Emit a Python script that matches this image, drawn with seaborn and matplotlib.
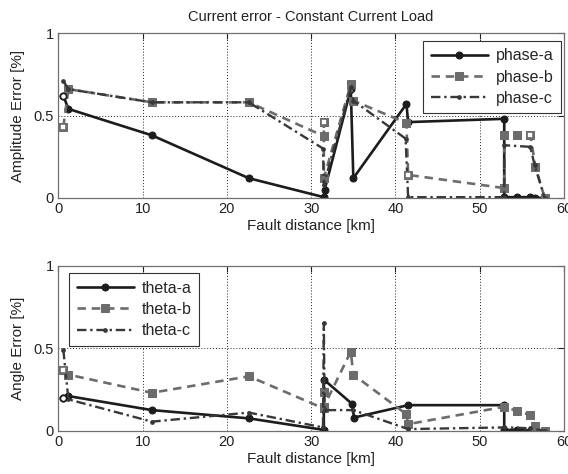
import matplotlib
matplotlib.use("Agg")
import matplotlib.pyplot as plt
import seaborn as sns
import pandas as pd

# Fault distance [km] and relative errors for each phase
amp_a_x = [0.6, 1.2, 11.1, 22.6, 31.5, 31.6, 34.7, 35.0, 41.3, 41.5, 52.9, 52.9, 54.4, 56.0, 56.5, 57.7]
amp_a_y = [0.62, 0.54, 0.38, 0.12, 0.005, 0.05, 0.66, 0.12, 0.57, 0.46, 0.48, 0.005, 0.005, 0.005, 0.002, 0.0]

amp_b_x = [0.6, 1.2, 11.1, 22.6, 31.5, 31.5, 31.5, 34.7, 35.0, 41.3, 41.5, 52.9, 52.9, 54.4, 56.0, 56.6, 57.7]
amp_b_y = [0.43, 0.66, 0.58, 0.58, 0.375, 0.46, 0.12, 0.69, 0.59, 0.455, 0.14, 0.06, 0.38, 0.38, 0.38, 0.19, 0.0]

amp_c_x = [0.6, 1.2, 11.1, 22.6, 31.4, 31.5, 34.7, 35.0, 41.2, 41.5, 52.9, 52.9, 56.0, 56.5, 57.7]
amp_c_y = [0.71, 0.66, 0.58, 0.58, 0.30, 0.08, 0.67, 0.59, 0.36, 0.005, 0.005, 0.32, 0.31, 0.20, 0.0]

ang_a_x = [0.6, 1.2, 11.1, 22.6, 31.5, 31.5, 34.8, 35.1, 41.5, 52.9, 52.9, 54.4, 56.0, 57.7]
ang_a_y = [0.20, 0.21, 0.125, 0.075, 0.005, 0.31, 0.165, 0.08, 0.155, 0.155, 0.005, 0.005, 0.0, 0.0]

ang_b_x = [0.6, 1.2, 11.1, 22.6, 31.5, 31.5, 31.5, 34.7, 35.0, 41.3, 41.5, 52.9, 54.4, 56.0, 56.5, 57.7]
ang_b_y = [0.37, 0.34, 0.23, 0.33, 0.135, 0.235, 0.145, 0.48, 0.34, 0.10, 0.04, 0.145, 0.12, 0.095, 0.03, 0.0]

ang_c_x = [0.6, 1.2, 11.1, 22.6, 31.4, 31.5, 31.6, 35.0, 41.5, 52.9, 56.0, 57.7]
ang_c_y = [0.49, 0.19, 0.055, 0.11, 0.02, 0.655, 0.125, 0.125, 0.01, 0.02, 0.015, 0.0]

# points drawn with hollow markers
amp_a_open = [0]
amp_b_open = [0, 5, 10, 14]
ang_a_open = [0]
ang_b_open = [0]

x_ticks = [0, 10, 20, 30, 40, 50, 60]
y_ticks = [0, 0.5, 1]
y_tick_labels = ["0", "0.5", "1"]

sns.set_style("white")
plt.rcParams["font.family"] = ["Liberation Sans", "DejaVu Sans"]

fig = plt.figure(figsize=(5.68, 4.74), dpi=100)
ax1 = fig.add_axes([0.1026, 0.5823, 0.8905, 0.348])
ax2 = fig.add_axes([0.1026, 0.0913, 0.8905, 0.348])

styles = [
    dict(color="#1c1c1c", ls="-", marker="o", ms=5, lw=1.9),
    dict(color="#6c6c6c", ls=(0, (3.2, 2.2)), marker="s", ms=5.5, lw=1.9),
    dict(color="#383838", ls=(0, (4.0, 1.6, 1.0, 1.6)), marker="o", ms=2.6, lw=1.7),
]


def draw(ax, series, labels, opens, ylabel, legend_loc, legend_anchor):
    for (xs, ys), lab, st, op in zip(series, labels, styles, opens):
        df = pd.DataFrame({"x": xs, "y": ys})
        sns.lineplot(data=df, x="x", y="y", ax=ax, sort=False, estimator=None,
                     color=st["color"], linestyle=st["ls"], linewidth=st["lw"],
                     marker=st["marker"], markersize=st["ms"],
                     markeredgecolor=st["color"], markerfacecolor=st["color"],
                     label=lab)
        if op:
            sub = df.iloc[op]
            sns.scatterplot(data=sub, x="x", y="y", ax=ax, marker=st["marker"],
                            s=st["ms"] ** 2 * 0.8, facecolor="white",
                            edgecolor=st["color"], linewidth=1.2, zorder=5,
                            legend=False)
    ax.set_xlim(0, 60)
    ax.set_ylim(0, 1)
    ax.set_xticks(x_ticks)
    ax.set_yticks(y_ticks)
    ax.set_yticklabels(y_tick_labels)
    ax.grid(True, color="#222222", linestyle=(0, (1, 2)), linewidth=0.7)
    ax.tick_params(direction="in", length=4, width=0.8, top=True, right=True,
                   labelsize=10.5, colors="#222222", pad=3)
    for sp in ax.spines.values():
        sp.set_color("#707070")
        sp.set_linewidth(0.9)
    ax.set_xlabel("Fault distance [km]", fontsize=11, labelpad=2, color="#222222")
    ax.set_ylabel(ylabel, fontsize=11, labelpad=6, color="#222222")
    leg = ax.legend(loc=legend_loc, bbox_to_anchor=legend_anchor, fontsize=11.5,
                    frameon=True, fancybox=False, framealpha=1,
                    edgecolor="#333333", handlelength=3.6, handletextpad=0.5,
                    borderpad=0.45, labelspacing=0.4, borderaxespad=0.0)
    leg.get_frame().set_linewidth(0.8)


draw(ax1, [(amp_a_x, amp_a_y), (amp_b_x, amp_b_y), (amp_c_x, amp_c_y)],
     ["phase-a", "phase-b", "phase-c"], [amp_a_open, amp_b_open, []],
     "Amplitude Error [%]", "upper right", (0.994, 0.952))
draw(ax2, [(ang_a_x, ang_a_y), (ang_b_x, ang_b_y), (ang_c_x, ang_c_y)],
     ["theta-a", "theta-b", "theta-c"], [ang_a_open, ang_b_open, []],
     "Angle Error [%]", "upper left", (0.022, 0.954))

ax1.set_title("Current error - Constant Current Load", fontsize=10.5, pad=9,
              color="#222222")

fig.savefig("out.png", dpi=100)
